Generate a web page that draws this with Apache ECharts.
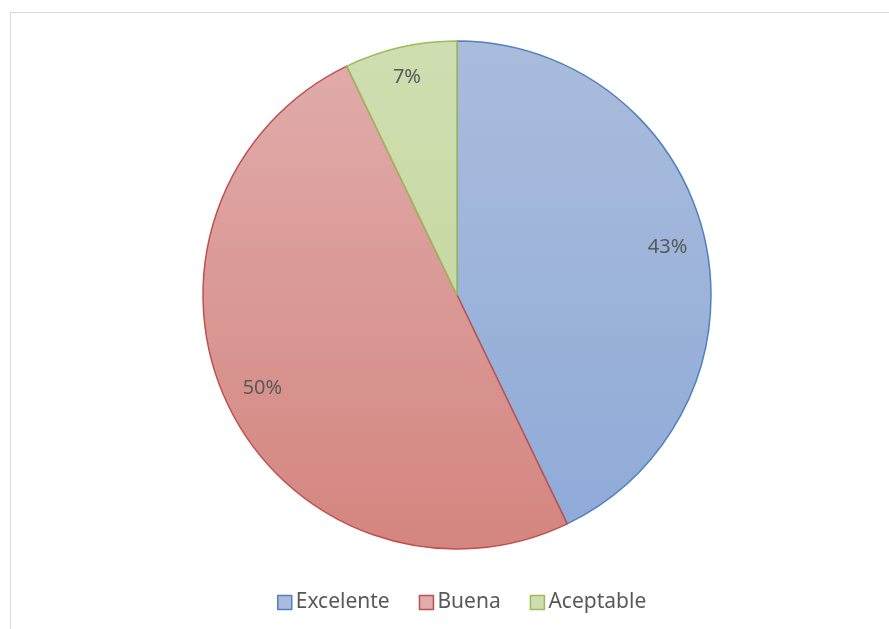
<!DOCTYPE html>
<html>
<head>
<meta charset="utf-8">
<script src="https://cdn.jsdelivr.net/npm/echarts@6/dist/echarts.min.js"></script>
<style>
  html, body { margin: 0; padding: 0; background: #fff; }
  #frame { position: absolute; left: 10px; top: 12px; width: 900px; height: 640px; border: 1px solid #d9d9d9; box-sizing: border-box; }
  #chart { position: absolute; left: 0; top: 0; width: 889px; height: 629px; }
</style>
</head>
<body>
<div id="frame"></div>
<div id="chart"></div>
<script>
// datos
var categorias = [ 'Excelente', 'Buena', 'Aceptable' ];
var valores = [ 6, 7, 1 ];

var colorBorde = [ '#4f81bd', '#c0504d', '#9bbb59' ];
var colorArriba = [ '#aabcdc', '#e0adac', '#cfdeb1' ];
var colorAbajo = [ '#8eaad8', '#d4857f', '#c0d596' ];

var cx = 457, cy = 295, r = 254;

function degradado( i ) {
    return {
        type: 'linear', x: 0, y: cy - r, x2: 0, y2: cy + r, global: true,
        colorStops: [ { offset: 0, color: colorArriba[ i ] }, { offset: 1, color: colorAbajo[ i ] } ]
    };
}

var datos = categorias.map( function( c, i ) {
    return {
        name: c,
        value: valores[ i ],
        itemStyle: { color: degradado( i ), borderColor: colorBorde[ i ], borderWidth: 1.5 }
    };
} );

var total = valores.reduce( function( a, b ) { return a + b; }, 0 );

var myChart = echarts.init( document.getElementById( 'chart' ) );

var option = {
    animation: false,
    legend: {
        bottom: 11,
        left: 272,
        itemWidth: 14,
        itemHeight: 14,
        itemGap: 29,
        textStyle: { color: '#595959', fontSize: 21, fontFamily: 'Noto Sans', padding: [ 0, 0, 0, -1 ] },
        data: categorias.map( function( c, i ) {
            return { name: c, icon: 'rect', itemStyle: { color: degradado( i ), borderColor: colorBorde[ i ], borderWidth: 1.5 } };
        } )
    },
    series: [ {
        type: 'pie',
        center: [ cx, cy ],
        radius: r,
        startAngle: 90,
        clockwise: true,
        label: { show: false },
        labelLine: { show: false },
        emphasis: { disabled: true },
        data: datos
    }, {
        // serie transparente sólo para colocar las etiquetas
        type: 'pie',
        center: [ cx, cy ],
        radius: [ 0, 426 ],
        startAngle: 90,
        clockwise: true,
        silent: true,
        legendHoverLink: false,
        itemStyle: { color: 'rgba(0,0,0,0)' },
        label: {
            show: true,
            position: 'inside',
            color: '#595959',
            fontSize: 20,
            fontFamily: 'Noto Sans',
            formatter: function( p ) { return Math.round( p.value / total * 100 ) + '%'; }
        },
        labelLine: { show: false },
        emphasis: { disabled: true },
        data: categorias.map( function( c, i ) {
            var d = { name: c + ' ', value: valores[ i ] };
            if ( i === 2 ) d.label = { offset: [ -2, -7 ] };
            return d;
        } )
    } ]
};

myChart.setOption( option );
</script>
</body>
</html>
